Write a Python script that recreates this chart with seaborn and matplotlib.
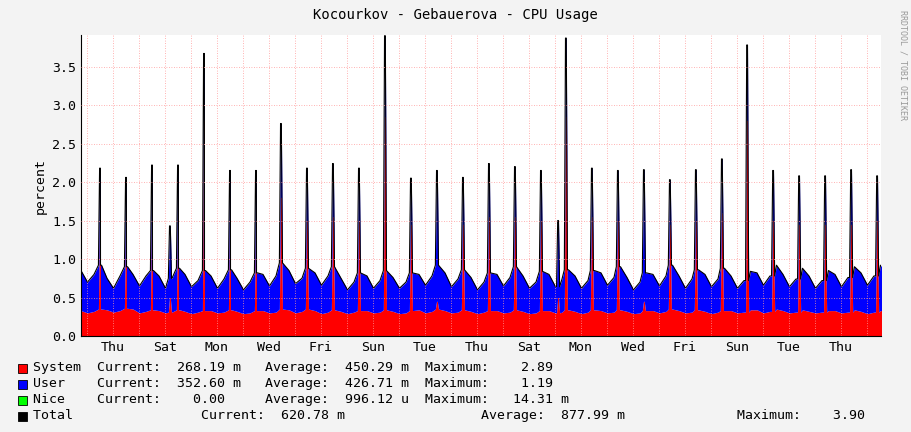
import numpy as np
import pandas as pd
import matplotlib
matplotlib.use("Agg")
import matplotlib.pyplot as plt
import seaborn as sns

# 6-hourly baseline values (31 days x 4)
base_system = [0.33,0.30,0.32,0.35, 0.34,0.31,0.33,0.36, 0.35,0.30,0.32,0.34, 0.33,0.30,0.31,0.34,
               0.32,0.29,0.31,0.33, 0.33,0.30,0.31,0.34, 0.32,0.29,0.30,0.33, 0.33,0.30,0.31,0.35,
               0.34,0.30,0.32,0.35, 0.33,0.29,0.31,0.34, 0.32,0.29,0.31,0.33, 0.33,0.30,0.31,0.34,
               0.32,0.29,0.30,0.33, 0.34,0.30,0.32,0.35, 0.33,0.30,0.31,0.34, 0.32,0.29,0.31,0.33,
               0.33,0.30,0.31,0.34, 0.32,0.29,0.30,0.33, 0.33,0.30,0.31,0.34, 0.32,0.29,0.31,0.34,
               0.33,0.30,0.31,0.34, 0.32,0.29,0.30,0.33, 0.33,0.30,0.32,0.35, 0.33,0.30,0.31,0.34,
               0.32,0.29,0.31,0.33, 0.33,0.30,0.31,0.34, 0.34,0.30,0.32,0.35, 0.33,0.30,0.31,0.34,
               0.32,0.30,0.31,0.33, 0.33,0.30,0.31,0.34, 0.32,0.29,0.31,0.33, 0.34,0.30,0.32,0.35]
base_total = [0.85,0.70,0.80,0.92, 0.75,0.62,0.78,0.90, 0.80,0.65,0.78,0.85, 0.78,0.62,0.75,0.88,
              0.80,0.64,0.72,0.85, 0.78,0.62,0.74,0.86, 0.75,0.60,0.70,0.82, 0.80,0.65,0.78,0.95,
              0.85,0.68,0.75,0.88, 0.82,0.66,0.78,0.90, 0.75,0.60,0.70,0.82, 0.78,0.62,0.72,0.85,
              0.76,0.62,0.70,0.82, 0.80,0.66,0.78,0.92, 0.82,0.64,0.74,0.86, 0.76,0.60,0.70,0.82,
              0.80,0.65,0.76,0.90, 0.78,0.62,0.70,0.84, 0.80,0.64,0.74,0.86, 0.78,0.62,0.72,0.85,
              0.82,0.66,0.76,0.90, 0.76,0.60,0.70,0.82, 0.80,0.65,0.78,0.92, 0.78,0.62,0.74,0.86,
              0.80,0.64,0.74,0.88, 0.78,0.62,0.72,0.84, 0.82,0.66,0.78,0.92, 0.80,0.64,0.74,0.88,
              0.78,0.62,0.72,0.85, 0.80,0.64,0.76,0.90, 0.82,0.66,0.78,0.92, 0.80,0.62,0.72,1.05]
# Spikes: time (days from left edge), total, system
spike_t = [0.73,1.73,2.73,3.42,3.73,4.73,5.73,6.73,7.69,8.69,9.69,10.69,11.69,12.69,13.69,14.69,
           15.69,16.69,17.69,18.35,18.65,19.65,20.65,21.65,22.65,23.65,24.65,25.62,26.62,27.62,28.62,29.62,30.62]
spike_total = [2.18,2.06,2.22,1.43,2.22,3.67,2.15,2.15,2.76,2.18,2.24,2.18,3.90,2.05,2.15,2.06,
               2.24,2.20,2.15,1.50,3.87,2.18,2.15,2.16,2.03,2.16,2.30,3.78,2.15,2.08,2.08,2.16,2.08]
spike_system = [1.55,1.50,1.55,0.50,1.55,2.80,1.50,1.50,1.80,1.50,1.55,1.50,2.85,1.45,0.45,1.45,
                1.55,1.55,1.50,0.50,2.85,1.55,1.50,0.45,1.45,1.50,1.60,2.80,1.50,1.45,1.45,1.45,1.50]
day_labels = ["Thu","Sat","Mon","Wed","Fri","Sun","Tue","Thu","Sat","Mon","Wed","Fri","Sun","Tue","Thu"]

n = min(len(base_total), len(base_system))
t = np.arange(n) * 0.25
rows = [(ti, s, tot) for ti, s, tot in zip(t, base_system[:n], base_total[:n])]
for st, stot, ssys in zip(spike_t, spike_total, spike_system):
    i = min(int(round(st / 0.25)), n - 1)
    rows.append((st - 0.06, base_system[i], base_total[i]))
    rows.append((st - 0.015, ssys, stot))
    rows.append((st + 0.015, ssys, stot))
    rows.append((st + 0.06, base_system[i], base_total[i]))
df = pd.DataFrame(rows, columns=["t", "system", "total"]).sort_values("t").reset_index(drop=True)

fig = plt.figure(figsize=(9.11, 4.32), dpi=100, facecolor="#f3f3f3")
ax = fig.add_axes([81/911, 96/432, 800/911, 301/432])
ax.set_facecolor("white")
ax.fill_between(df.t, 0, df.system, color="#ff0000", lw=0)
ax.fill_between(df.t, df.system, df.total, color="#0000ff", lw=0)
sns.lineplot(data=df, x="t", y="total", color="black", lw=0.8, ax=ax, estimator=None, sort=False)
ax.set_xlim(0, 30.77)
ax.set_ylim(0, 3.91)
ax.set_yticks(np.arange(0, 3.6, 0.5))
ax.set_yticklabels([f"{v:.1f}" for v in np.arange(0, 3.6, 0.5)], family="DejaVu Sans Mono", fontsize=9.5)
ticks = [1.23 + 2*k for k in range(len(day_labels))]
ax.set_xticks(ticks)
ax.set_xticklabels(day_labels, family="DejaVu Sans Mono", fontsize=9.5)
ax.set_xticks(np.arange(0.23, 30.77, 1), minor=True)
ax.tick_params(length=0, which="both")
ax.grid(True, which="both", color="#ff9999", ls=(0, (1, 2)), lw=0.6)
ax.set_axisbelow(False)
ax.set_xlabel("")
ax.set_ylabel("percent", family="DejaVu Sans Mono", fontsize=9.5)
for s in ["top", "right"]:
    ax.spines[s].set_visible(False)
fig.text(0.5, 1 - 15/432, "Kocourkov - Gebauerova - CPU Usage", ha="center", va="center",
         family="DejaVu Sans Mono", fontsize=10)
fig.text(1 - 8/911, 0.85, "RRDTOOL / TOBI OETIKER", rotation=270, ha="center", va="center",
         family="DejaVu Sans Mono", fontsize=6, color="#999999")
legend = [("#ff0000", "System  Current:  268.19 m   Average:  450.29 m  Maximum:    2.89"),
          ("#0000ff", "User    Current:  352.60 m   Average:  426.71 m  Maximum:    1.19"),
          ("#00ff00", "Nice    Current:    0.00     Average:  996.12 u  Maximum:   14.31 m"),
          ("#000000", "Total                Current:  620.78 m                 Average:  877.99 m              Maximum:    3.90")]
for k, (c, txt) in enumerate(legend):
    y = 1 - (368 + 16*k)/432
    fig.patches.append(plt.Rectangle((18/911, y - 4.5/432), 9/911, 9/432, transform=fig.transFigure,
                                     facecolor=c, edgecolor="black", lw=0.6))
    fig.text(33/911, y, txt, va="center", family="DejaVu Sans Mono", fontsize=9.5)
fig.savefig("out.png", dpi=100, facecolor=fig.get_facecolor())
